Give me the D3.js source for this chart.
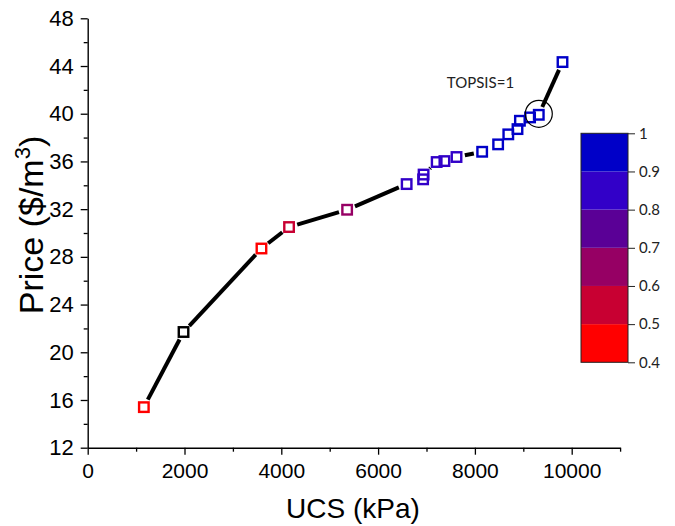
<!DOCTYPE html>
<html>
<head>
<meta charset="utf-8">
<script src="https://cdn.jsdelivr.net/npm/d3@7"></script>
<style>
  html, body { margin: 0; padding: 0; background: #fff; }
  svg { display: block; }
</style>
</head>
<body>
<svg id="chart" width="675" height="526"></svg>
<script>
// ---- Data ----
const ucs = [1160, 1980, 3590, 4160, 5360, 6590, 6930, 6940, 7210, 7370, 7620, 8150, 8480, 8690, 8880, 8930, 9140, 9320, 9810];
const price = [15.4, 21.7, 28.7, 30.5, 31.95, 34.1, 34.5, 34.9, 35.95, 36.03, 36.37, 36.81, 37.43, 38.27, 38.71, 39.41, 39.69, 39.91, 44.33];
const topsis = [0.45, 0.3, 0.48, 0.55, 0.65, 0.82, 0.83, 0.84, 0.86, 0.87, 0.89, 0.91, 0.93, 0.94, 0.95, 0.96, 0.97, 1.0, 0.98];
const xTicks = [0, 2000, 4000, 6000, 8000, 10000];
const xMinorTicks = [1000, 3000, 5000, 7000, 9000, 11000];
const yTicks = [12, 16, 20, 24, 28, 32, 36, 40, 44, 48];
const yMinorTicks = [14, 18, 22, 26, 30, 34, 38, 42, 46];
const cbTicks = [0.4, 0.5, 0.6, 0.7, 0.8, 0.9, 1];
const cbTickLabels = ["0.4", "0.5", "0.6", "0.7", "0.8", "0.9", "1"];
const cbColors = ["#ff0000", "#c80032", "#960064", "#5a0096", "#3200c8", "#0000c8"];
const bestIndex = 17;
const annotation = { x: 7420, y: 42.15, text: "TOPSIS=1" };
const xTitle = "UCS (kPa)";

// ---- Layout ----
const svg = d3.select("#chart");
const plot = { left: 87.7, right: 620.1, top: 18.3, bottom: 447.7 };
const x = d3.scaleLinear().domain([0, 11000]).range([plot.left, plot.right]);
const y = d3.scaleLinear().domain([12, 48]).range([plot.bottom, plot.top]);
const colorScale = d3.scaleQuantize().domain([0.4, 1]).range(cbColors);
const pointColor = v => (v < 0.4 ? "#000000" : colorScale(Math.min(v, 0.9999)));
const armFont = "'Liberation Sans', Arial, sans-serif";
const calFont = "Lato, 'Open Sans', sans-serif";

// ---- Axes ----
function styleAxis(g, size) {
  g.select(".domain").attr("stroke", "#000").attr("stroke-width", 1.4);
  g.selectAll(".tick line").attr("stroke", "#000").attr("stroke-width", 1.3);
  g.selectAll(".tick text").attr("fill", "#000").style("font-family", armFont).style("font-size", size);
}
const gx = svg.append("g").attr("transform", `translate(0,${plot.bottom})`)
  .call(d3.axisBottom(x).tickValues(xTicks).tickSize(7).tickPadding(8).tickSizeOuter(0).tickFormat(d3.format("d")));
styleAxis(gx, "21px");
const gxm = svg.append("g").attr("transform", `translate(0,${plot.bottom})`)
  .call(d3.axisBottom(x).tickValues(xMinorTicks).tickSize(4).tickFormat("").tickSizeOuter(0));
gxm.select(".domain").remove();
gxm.selectAll(".tick line").attr("stroke", "#000").attr("stroke-width", 1.3);

const gy = svg.append("g").attr("transform", `translate(${plot.left},0)`)
  .call(d3.axisLeft(y).tickValues(yTicks).tickSize(7).tickPadding(7).tickSizeOuter(0));
styleAxis(gy, "22px");
const gym = svg.append("g").attr("transform", `translate(${plot.left},0)`)
  .call(d3.axisLeft(y).tickValues(yMinorTicks).tickSize(4).tickFormat("").tickSizeOuter(0));
gym.select(".domain").remove();
gym.selectAll(".tick line").attr("stroke", "#000").attr("stroke-width", 1.3);

// Axis titles
svg.append("text").attr("x", 353).attr("y", 518).attr("text-anchor", "middle")
  .style("font-family", armFont).style("font-size", "28px").attr("fill", "#000").text(xTitle);
const yt = svg.append("text").attr("transform", "translate(43,225) rotate(-90)").attr("text-anchor", "middle")
  .style("font-family", armFont).style("font-size", "34px").attr("fill", "#000");
yt.append("tspan").text("Price ($/m");
yt.append("tspan").attr("dy", -13).style("font-size", "22px").text("3");
yt.append("tspan").attr("dy", 13).text(")");

// ---- Line segments with gaps at markers ----
const pts = ucs.map((u, i) => ({ px: x(u), py: y(price[i]), v: topsis[i] }));
const gap = 8.5;
const segs = [];
for (let i = 0; i < pts.length - 1; i++) {
  const a = pts[i], b = pts[i + 1];
  const dx = b.px - a.px, dy = b.py - a.py, L = Math.hypot(dx, dy);
  if (L > 2 * gap + 1) {
    const ux = dx / L, uy = dy / L;
    segs.push({ x1: a.px + ux * gap, y1: a.py + uy * gap, x2: b.px - ux * gap, y2: b.py - uy * gap });
  }
}
svg.append("g").selectAll("line").data(segs).join("line")
  .attr("x1", d => d.x1).attr("y1", d => d.y1).attr("x2", d => d.x2).attr("y2", d => d.y2)
  .attr("stroke", "#000").attr("stroke-width", 4).attr("stroke-linecap", "butt");

// ---- Markers ----
const s = 9.5;
svg.append("g").selectAll("rect").data(pts).join("rect")
  .attr("x", d => d.px - s / 2).attr("y", d => d.py - s / 2)
  .attr("width", s).attr("height", s)
  .attr("fill", "none").attr("stroke", d => pointColor(d.v)).attr("stroke-width", 2.4);

// ---- Circle & annotation ----
svg.append("circle").attr("cx", x(ucs[bestIndex])).attr("cy", y(price[bestIndex]) - 1).attr("r", 13.5)
  .attr("fill", "none").attr("stroke", "#000").attr("stroke-width", 1.2);
svg.append("text").attr("x", x(annotation.x)).attr("y", y(annotation.y))
  .style("font-family", calFont).style("font-size", "15px").attr("fill", "#222").text(annotation.text);

// ---- Colorbar ----
const cb = { x: 581, w: 47, top: 133.3, bottom: 362.3 };
const cy = d3.scaleLinear().domain([0.4, 1]).range([cb.bottom, cb.top]);
const bands = cbColors.map((c, i) => ({ lo: cbTicks[i], hi: cbTicks[i + 1], c }));
svg.append("g").selectAll("rect").data(bands).join("rect")
  .attr("x", cb.x).attr("y", d => cy(d.hi)).attr("width", cb.w).attr("height", d => cy(d.lo) - cy(d.hi))
  .attr("fill", d => d.c);
svg.append("rect").attr("x", cb.x).attr("y", cb.top).attr("width", cb.w).attr("height", cb.bottom - cb.top)
  .attr("fill", "none").attr("stroke", "#222").attr("stroke-width", 1);
const gcb = svg.append("g").attr("transform", `translate(${cb.x + cb.w},0)`)
  .call(d3.axisRight(cy).tickValues(cbTicks).tickSize(7).tickPadding(4).tickSizeOuter(0)
    .tickFormat((d, i) => cbTickLabels[i]));
gcb.select(".domain").remove();
gcb.selectAll(".tick line").attr("stroke", "#222").attr("stroke-width", 1);
gcb.selectAll(".tick text").attr("fill", "#222").style("font-family", calFont).style("font-size", "15px");
</script>
</body>
</html>
